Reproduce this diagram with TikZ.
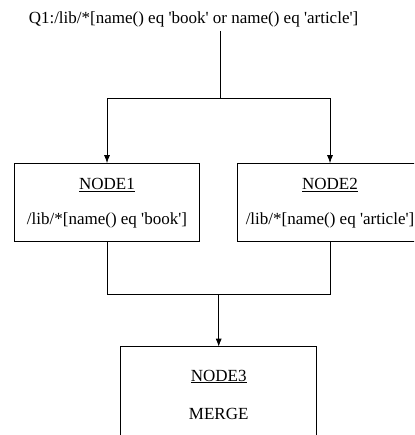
\documentclass[tikz,border=0pt]{standalone}
\usepackage{fontspec}
\setmainfont{Liberation Serif}
\usetikzlibrary{arrows.meta}
\newcommand{\sq}{\textquotesingle}
\begin{document}
\begin{tikzpicture}[x=1pt,y=-1pt,
  every node/.style={font=\fontsize{17}{20}\selectfont,inner sep=0pt,outer sep=0pt},
  box/.style={draw,line width=0.8pt,minimum width=184.5pt,minimum height=78.7pt},
  bigbox/.style={draw,line width=0.8pt,minimum width=196pt,minimum height=120pt,anchor=north},
  txt/.style={anchor=base},
  conn/.style={line width=0.8pt},
  arr/.style={line width=0.8pt,-{Latex[length=8pt,width=6pt]}}]
\useasboundingbox (0,0) rectangle (414,435);
\clip (0,0) rectangle (414,435);
% title
\node[txt] (q1) at (193.5,24) {Q1:/lib/*[name() eq \sq book\sq{} or name() eq \sq article\sq]};
\coordinate (qtop) at (220,31);
\coordinate (j1) at (220,98);
% boxes
\node[box] (n1) at (107,202.5) {};
\node[box] (n2) at (330,202.5) {};
\node[txt] (n1t) at (107,190) {\underline{NODE1}};
\node[txt] (n1q) at (107,224) {/lib/*[name() eq \sq book\sq]};
\node[txt] (n2t) at (330,190) {\underline{NODE2}};
\node[txt] (n2q) at (330,224) {/lib/*[name() eq \sq article\sq]};
\coordinate (j2) at (218.7,294);
\node[bigbox] (n3) at (218.7,346.7) {};
\node[txt] (n3t) at (218.7,381) {\underline{NODE3}};
\node[txt] (n3m) at (218.7,419) {MERGE};
% connectors
\draw[conn] (qtop) -- (j1);
\draw[arr] (j1) -| (n1.north);
\draw[arr] (j1) -| (n2.north);
\draw[conn] (n1.south) |- (j2);
\draw[conn] (n2.south) |- (j2);
\draw[arr] (j2) -- (n3.north);
\end{tikzpicture}
\end{document}
